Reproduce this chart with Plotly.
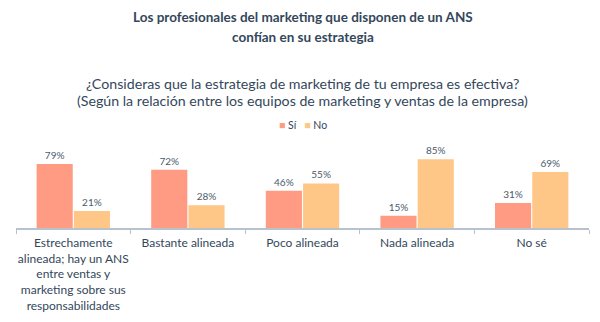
import plotly.graph_objects as go

categories = [
    "Estrechamente alineada; hay un ANS entre ventas y marketing sobre sus responsabilidades",
    "Bastante alineada",
    "Poco alineada",
    "Nada alineada",
    "No sé",
]
tick_labels = [
    "Estrechamente<br>alineada; hay un ANS<br>entre ventas y<br>marketing sobre sus<br>responsabilidades",
    "Bastante alineada",
    "Poco alineada",
    "Nada alineada",
    "No sé",
]
series_names = ["Sí", "No"]
si_values = [79, 72, 46, 15, 31]
no_values = [21, 28, 55, 85, 69]

TEXT = "#33475b"
FONT = "Lato, Open Sans, sans-serif"
SI_COLOR = "#ff9b82"
NO_COLOR = "#ffc787"

fig = go.Figure()
for name, vals, color in [(series_names[0], si_values, SI_COLOR),
                          (series_names[1], no_values, NO_COLOR)]:
    fig.add_trace(go.Bar(
        name=name, x=categories, y=vals,
        marker=dict(color=color, line=dict(width=0)),
        text=[f"{v}%" for v in vals], textposition="outside",
        textfont=dict(size=10, color="#4a5a6a"), cliponaxis=False,
    ))

fig.update_layout(
    width=600, height=322,
    margin=dict(l=16, r=11, t=147, b=94),
    paper_bgcolor="white", plot_bgcolor="white",
    font=dict(family=FONT, color=TEXT),
    barmode="group", bargap=0.35, bargroupgap=0.03,
    showlegend=False,
)


def header(text, shift, size):
    fig.add_annotation(text=text, xref="paper", yref="paper", x=0.5, y=1,
                       xanchor="center", yanchor="middle", yshift=shift,
                       showarrow=False, font=dict(size=size, color=TEXT))


header("<b>Los profesionales del marketing que disponen de un ANS</b>", 130, 13.5)
header("<b>confían en su estrategia</b>", 110, 13.5)
header("¿Consideras que la estrategia de marketing de tu empresa es efectiva?", 64, 14.2)
header("(Según la relación entre los equipos de marketing y ventas de la empresa)", 47, 14.2)

# compact legend row
legend_text = (f"<span style='color:{SI_COLOR}'>■</span> {series_names[0]}"
               f"   <span style='color:{NO_COLOR}'>■</span> {series_names[1]}")
fig.add_annotation(text=legend_text, xref="paper", yref="paper", x=0.5, y=1,
                   xanchor="center", yanchor="middle", yshift=22,
                   showarrow=False, font=dict(size=10.5, color=TEXT))

fig.update_xaxes(
    tickvals=categories, ticktext=tick_labels, tickangle=0,
    tickson="boundaries", ticks="outside", ticklen=4, tickcolor="#b8c2cc",
    showline=True, linecolor="#b8c2cc", linewidth=1.5,
    ticklabelstandoff=3,
    tickfont=dict(size=12, color=TEXT), automargin=False,
)
fig.update_yaxes(range=[0, 100], visible=False, showgrid=False, fixedrange=True)

fig.write_html("out.html")
